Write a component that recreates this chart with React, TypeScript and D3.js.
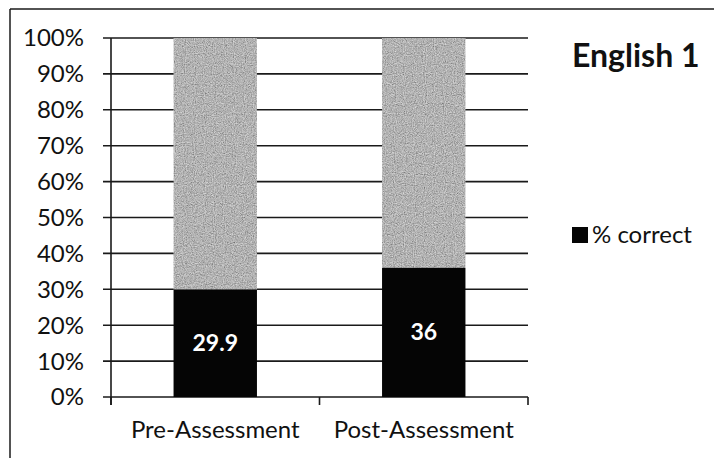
import React from "react";
import * as d3 from "d3";

const categories = ["Pre-Assessment", "Post-Assessment"];
const correct = [29.9, 36];
const remainder = [70.1, 64];
const yTicks = [0, 10, 20, 30, 40, 50, 60, 70, 80, 90, 100];
const title = "English 1";
const legendLabel = "% correct";

const W = 714;
const H = 458;
const FONT = "Lato, 'Open Sans', 'Noto Sans', sans-serif";

export default function App() {
  const x = d3.scaleBand<string>().domain(categories).range([111, 528]).paddingInner(0.6).paddingOuter(0.3);
  const band = d3.scaleBand<string>().domain(categories).range([111, 528]).padding(0);
  const y = d3.scaleLinear().domain([0, 100]).range([397, 38]);
  const stroke = "#1a1a1a";

  return (
    <svg width={W} height={H} style={{ position: "absolute", left: 0, top: 0, background: "#fff" }}>
      <defs>
        <filter id="grain" x="0" y="0" width="100%" height="100%">
          <feTurbulence type="fractalNoise" baseFrequency="0.9" numOctaves={2} seed={3} result="n" />
          <feColorMatrix type="saturate" values="0" in="n" result="g" />
          <feComponentTransfer in="g" result="g2">
            <feFuncA type="linear" slope="0" intercept="1" />
          </feComponentTransfer>
          <feBlend in="SourceGraphic" in2="g2" mode="multiply" result="b" />
          <feComposite in="b" in2="SourceGraphic" operator="in" />
        </filter>
      </defs>
      <rect x={0} y={0} width={W} height={H} fill="#fff" />
      {/* chart border */}
      <line x1={10} y1={9} x2={W} y2={9} stroke={stroke} strokeWidth={1.5} />
      <line x1={10} y1={9} x2={10} y2={H} stroke={stroke} strokeWidth={1.5} />

      {/* gridlines + y ticks */}
      {yTicks.map((t) => (
        <g key={t}>
          <line x1={103} x2={528} y1={y(t)} y2={y(t)} stroke={stroke} strokeWidth={1.6} />
          <text x={84} y={y(t)} dy="0.35em" textAnchor="end" fontFamily={FONT} fontSize={24} fill="#111">
            {t}%
          </text>
        </g>
      ))}
      {/* y axis */}
      <line x1={111} x2={111} y1={y(100)} y2={405} stroke={stroke} strokeWidth={1.6} />
      {/* category ticks */}
      {[111, ...categories.map((c) => (band(c) as number) + band.bandwidth())].map((px, i) => (
        <line key={i} x1={px} x2={px} y1={y(0)} y2={405} stroke={stroke} strokeWidth={1.6} />
      ))}

      {/* bars */}
      {categories.map((c, i) => {
        const bx = x(c) as number;
        const bw = x.bandwidth();
        return (
          <g key={c}>
            <rect
              x={bx}
              width={bw}
              y={y(correct[i] + remainder[i])}
              height={y(correct[i]) - y(correct[i] + remainder[i])}
              fill="#f2f2f2"
              filter="url(#grain)"
            />
            <rect x={bx} width={bw} y={y(correct[i])} height={y(0) - y(correct[i])} fill="#050505" />
            <text
              x={bx + bw / 2}
              y={y(correct[i] / 2)}
              dy="0.35em"
              textAnchor="middle"
              fontFamily={FONT}
              fontWeight="bold"
              fontSize={23}
              fill="#fff"
            >
              {correct[i]}
            </text>
            <text
              x={(band(c) as number) + band.bandwidth() / 2}
              y={438}
              textAnchor="middle"
              fontFamily={FONT}
              fontSize={24}
              fill="#111"
            >
              {c}
            </text>
          </g>
        );
      })}

      {/* title */}
      <text x={572} y={67} fontFamily={FONT} fontWeight="bold" fontSize={32} fill="#111">
        {title}
      </text>
      {/* legend */}
      <rect x={572} y={227} width={16} height={16} fill="#050505" />
      <text x={592} y={243} fontFamily={FONT} fontSize={24} fill="#111">
        {legendLabel}
      </text>
    </svg>
  );
}
